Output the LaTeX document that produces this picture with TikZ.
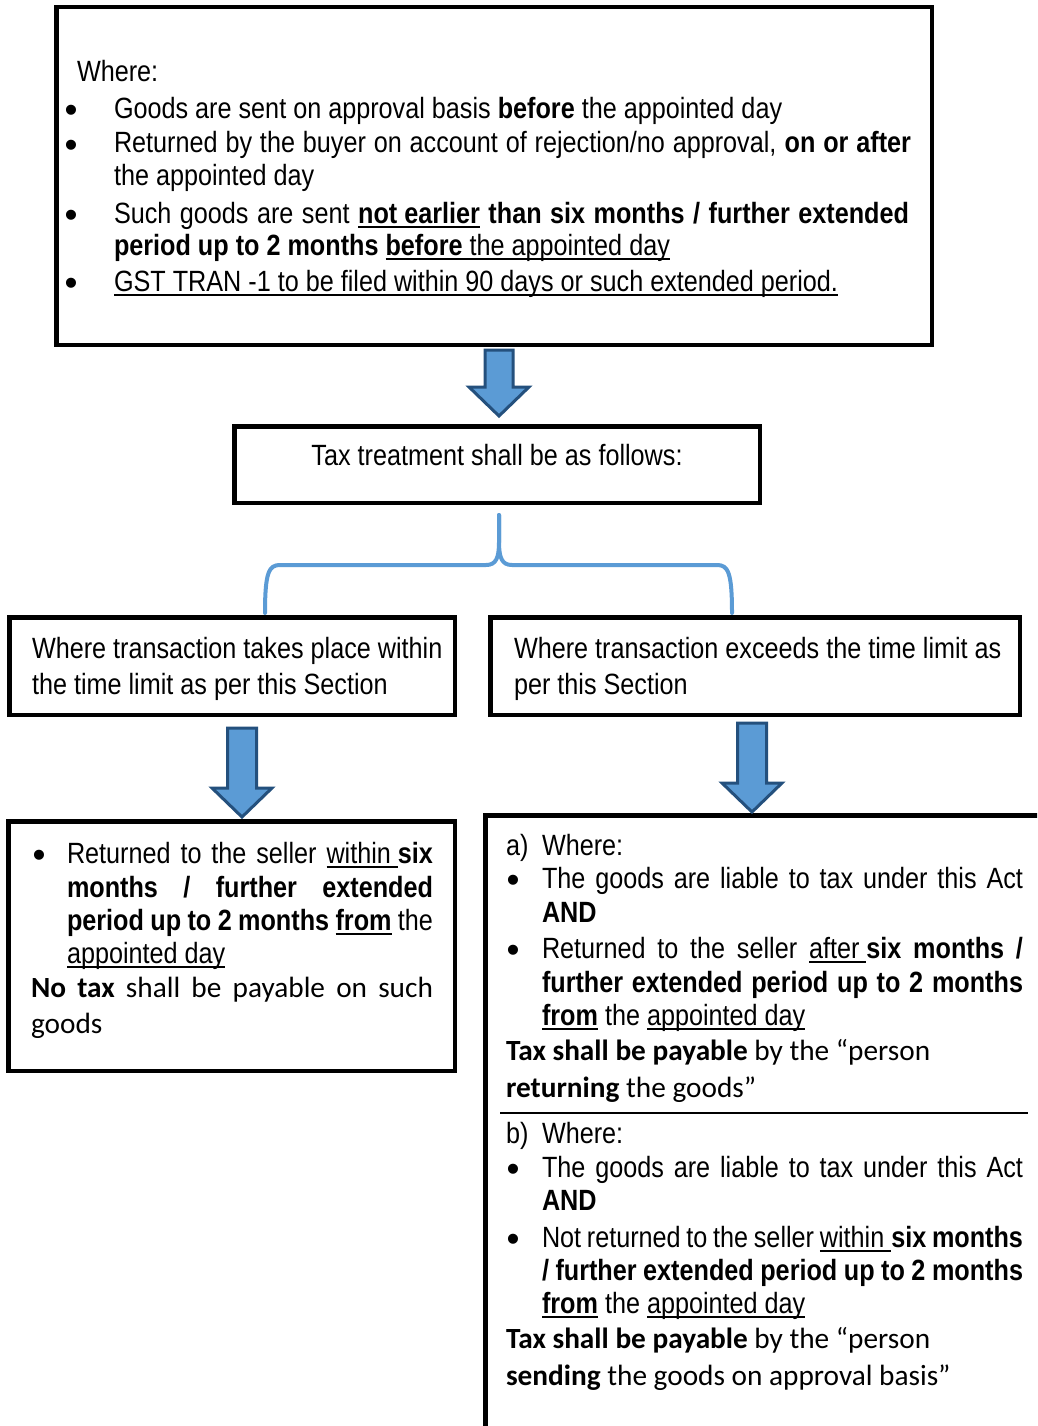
\documentclass[tikz,border=0pt]{standalone}
\usepackage{fontspec}
\setmainfont{Liberation Sans}
\newfontfamily\nar[FakeStretch=0.86]{Liberation Sans}
\newfontfamily\carl{Carlito}
\usetikzlibrary{calc}
\definecolor{arrfill}{HTML}{5B9BD5}
\definecolor{arrline}{HTML}{24507D}
\definecolor{bracec}{HTML}{5B9BD5}
\newcommand\ulx[1]{\setbox0\hbox{#1}\rlap{\rule[-4.5pt]{\wd0}{1.8pt}}\box0\relax}
\newcommand\jl[2]{\makebox[#1][s]{#2}}
\newcommand\barrow[6]{% cx, ytop, yhead, ytip, shaft half, head half
  \draw[blockarrow] ({#1-#5},#2) -- ({#1+#5},#2) -- ({#1+#5},#3) -- ({#1+#6},#3)
    -- (#1,#4) -- ({#1-#6},#3) -- ({#1-#5},#3) -- cycle;}
\begin{document}
\begin{tikzpicture}[x=1pt,y=-1pt,
  box/.style={draw=black, line width=4.5pt, inner sep=0pt, outer sep=0pt},
  t/.style={anchor=base west, inner sep=0pt, outer sep=0pt, font=\nar\fontsize{29.3}{35}\selectfont},
  c/.style={anchor=base west, inner sep=0pt, outer sep=0pt, font=\carl\fontsize{29.3}{35}\selectfont},
  bul/.style={anchor=base, inner sep=0pt, outer sep=0pt, yshift=-4.5pt, font=\fontsize{37}{40}\selectfont},
  blockarrow/.style={fill=arrfill, draw=arrline, line width=3pt, line join=miter},
  bracepath/.style={draw=bracec, line width=4pt, line cap=round, line join=round}]
\useasboundingbox (0,0) rectangle (1037,1426);
\clip (0,0) rectangle (1037,1426);
\fill[white] (0,0) rectangle (1037,1426);

% boxes
\node[box, minimum width=875.5pt, minimum height=337.5pt] (b1) at (494,176) {};
\node[box, minimum width=525.5pt, minimum height=76.5pt] (b2) at (497,464.5) {};
\node[box, minimum width=445.5pt, minimum height=97.5pt] (b3) at (232,666) {};
\node[box, minimum width=529.5pt, minimum height=97.5pt] (b4) at (755,666) {};
\node[box, minimum width=446.5pt, minimum height=249.5pt] (b5) at (231.5,946) {};
\node[box, minimum width=580pt, minimum height=640pt] (b6) at (775.25,1135.25) {};

% top box text
\node[t] (w0) at (77,82) {Where:};
\node[bul] (u1) at (71,118) {•};
\node[t] (l1) at (114,118) {Goods are sent on approval basis \textbf{before} the appointed day};
\node[bul] (u2) at (71,153) {•};
\node[t] (l2) at (114,153) {\jl{797pt}{Returned by the buyer on account of rejection/no approval, \textbf{on or after}}};
\node[t] (l3) at (114,185) {the appointed day};
\node[bul] (u3) at (71,223) {•};
\node[t] (l4) at (114,223) {\jl{795pt}{Such goods are sent \ulx{\textbf{not earlier}} \textbf{than six months / further extended}}};
\node[t] (l5) at (114,255) {\textbf{period up to 2 months} \ulx{\textbf{before} the appointed day}};
\node[bul] (u4) at (71,291) {•};
\node[t] (l6) at (114,291) {\ulx{GST TRAN -1 to be filed within 90 days or such extended period.}};

% arrow 1
\barrow{499}{350}{387}{416}{14}{30}

% tax treatment
\node[t, anchor=base] (tt) at (497,465) {Tax treatment shall be as follows:};

% brace
\coordinate (bt) at (499,515);
\coordinate (bl) at (265,613);
\coordinate (br) at (732,613);
\draw[bracepath] (bt) -- (499,542) .. controls (499,558) and (496,565) .. (486,565) -- (280,565) .. controls (269,565) and (265,572) .. (bl);
\draw[bracepath] (bt) -- (499,542) .. controls (499,558) and (502,565) .. (512,565) -- (717,565) .. controls (728,565) and (732,572) .. (br);

% middle boxes text
\node[t] (m1) at (32,658) {Where transaction takes place within};
\node[t] (m2) at (32,694) {the time limit as per this Section};
\node[t] (m3) at (514,658) {Where transaction exceeds the time limit as};
\node[t] (m4) at (514,694) {per this Section};

% arrows 2 and 3
\barrow{242}{728}{788}{817}{14.5}{30}
\barrow{752}{723}{783}{812}{14.5}{30}

% left bottom box
\node[bul] (v1) at (39,863) {•};
\node[t] (n1) at (67,863) {\jl{366pt}{Returned to the seller \ulx{within\ }\textbf{six}}};
\node[t] (n2) at (67,897) {\jl{366pt}{\textbf{months / further extended}}};
\node[t] (n3) at (67,930) {\jl{366pt}{\textbf{period up to 2 months \ulx{from}} the}};
\node[t] (n4) at (67,963) {\ulx{appointed day}};
\node[c] (n5) at (31,997) {\jl{402pt}{\textbf{No tax} shall be payable on such}};
\node[c] (n6) at (31,1033) {goods};

% right bottom box, part a
\node[t] (ra) at (506,855) {a)};
\node[t] (ra1) at (542,855) {Where:};
\node[bul] (ua1) at (513,888) {•};
\node[t] (ra2) at (542,888) {\jl{481pt}{The goods are liable to tax under this Act}};
\node[t] (ra3) at (542,922) {\textbf{AND}};
\node[bul] (ua2) at (513,958) {•};
\node[t] (ra4) at (542,958) {\jl{481pt}{Returned to the seller \ulx{after\ }\textbf{six months /}}};
\node[t] (ra5) at (542,992) {\jl{481pt}{\textbf{further extended period up to 2 months}}};
\node[t] (ra6) at (542,1025) {\ulx{\textbf{from}} the \ulx{appointed day}};
\node[c] (ra7) at (506,1060) {\textbf{Tax shall be payable} by the “person};
\node[c] (ra8) at (506,1097) {\textbf{returning} the goods”};
\coordinate (sepl) at (500,1113);
\coordinate (sepr) at (1028,1113);
\draw[line width=1.8pt] (sepl) -- (sepr);

% part b
\node[t] (rb) at (506,1143) {b)};
\node[t] (rb1) at (542,1143) {Where:};
\node[bul] (ub1) at (513,1177) {•};
\node[t] (rb2) at (542,1177) {\jl{481pt}{The goods are liable to tax under this Act}};
\node[t] (rb3) at (542,1210) {\textbf{AND}};
\node[bul] (ub2) at (513,1247) {•};
\node[t] (rb4) at (542,1247) {\jl{481pt}{Not returned to the seller \ulx{within\ }\textbf{six months}}};
\node[t] (rb5) at (542,1280) {\jl{481pt}{\textbf{/ further extended period up to 2 months}}};
\node[t] (rb6) at (542,1313) {\ulx{\textbf{from}} the \ulx{appointed day}};
\node[c] (rb7) at (506,1348) {\textbf{Tax shall be payable} by the “person};
\node[c] (rb8) at (506,1385) {\textbf{sending} the goods on approval basis”};
\end{tikzpicture}
\end{document}
